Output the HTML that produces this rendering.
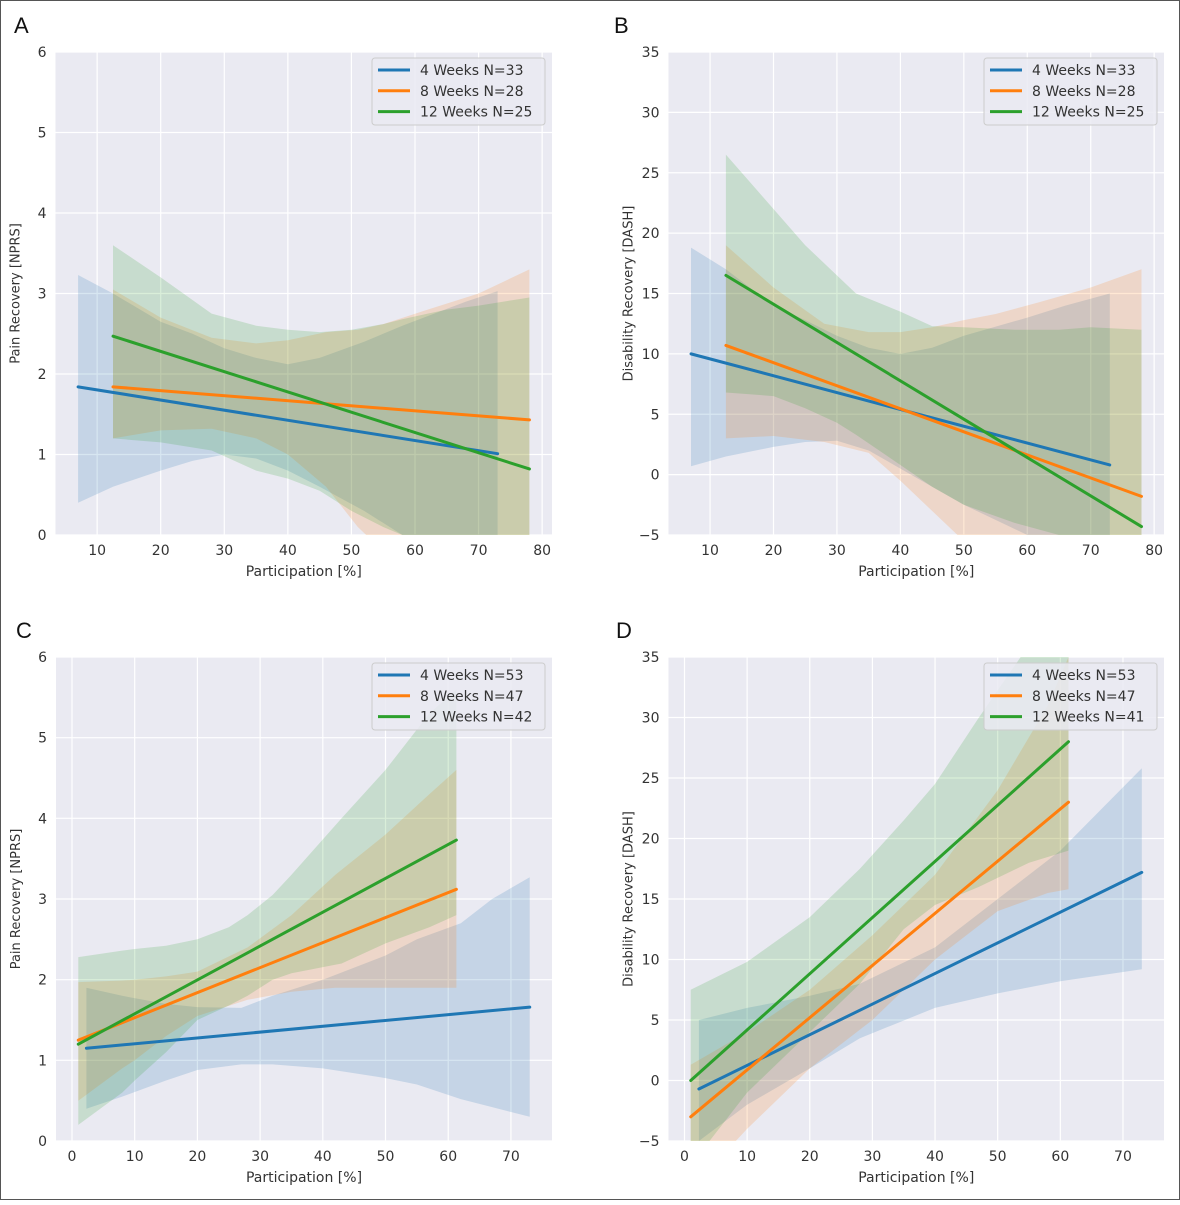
<!DOCTYPE html>
<html><head><meta charset="utf-8">
<style>
html,body{margin:0;padding:0;background:#fff;}
#fig{position:relative;width:1180px;height:1200px;}
svg text{font-family:"DejaVu Sans","Liberation Sans",sans-serif;}
svg text.letter{font-family:"Liberation Sans",sans-serif;}
</style></head>
<body>
<div id="fig">
<svg id="svg" width="1180" height="1200" viewBox="0 0 1180 1200">
<rect x="0.5" y="0.5" width="1179" height="1199" fill="#fff" stroke="#555" stroke-width="1"/>
</svg>
</div>
<script>
// ---- shared legend / series names ----
const seriesNames = ["4 Weeks", "8 Weeks", "12 Weeks"];
const colors = ["#1f77b4", "#ff7f0e", "#2ca02c"];

// ---- Panel A: Pain recovery (NPRS) ----
const aN = [33, 28, 25];
const aLineX = [[7, 73], [12.5, 78], [12.5, 78]];
const aLineY = [[1.84, 1.01], [1.84, 1.43], [2.47, 0.82]];
const aBandX = [
  [7, 12.5, 20, 25, 30, 35, 40, 45, 52, 58, 63, 68, 73],
  [12.5, 20, 28, 35, 40, 46, 51, 55, 62, 70, 78],
  [12.5, 20, 28, 35, 40, 45, 50, 55, 58, 62, 65, 70, 78]];
const aBandHi = [
  [3.23, 3.0, 2.65, 2.5, 2.32, 2.2, 2.12, 2.2, 2.4, 2.6, 2.75, 2.9, 3.03],
  [3.05, 2.7, 2.45, 2.38, 2.42, 2.52, 2.55, 2.62, 2.8, 3.0, 3.3],
  [3.6, 3.2, 2.75, 2.6, 2.55, 2.52, 2.55, 2.62, 2.68, 2.75, 2.8, 2.85, 2.95]];
const aBandLo = [
  [0.4, 0.6, 0.8, 0.92, 1.0, 0.95, 0.8, 0.6, 0.3, 0.0, -0.2, -0.4, -0.6],
  [1.2, 1.3, 1.32, 1.2, 1.0, 0.6, 0.1, -0.2, -0.5, -0.8, -1.2],
  [1.2, 1.15, 1.05, 0.8, 0.7, 0.55, 0.3, 0.1, 0.0, -0.2, -0.3, -0.5, -0.7]];
const aYTicks = [0, 1, 2, 3, 4, 5, 6];
const abXTicks = [10, 20, 30, 40, 50, 60, 70, 80];

// ---- Panel B: Disability recovery (DASH) ----
const bN = [33, 28, 25];
const bLineX = [[7, 73], [12.5, 78], [12.5, 78]];
const bLineY = [[10, 0.8], [10.7, -1.8], [16.5, -4.3]];
const bBandX = [
  [7, 12.5, 20, 25, 30, 35, 40, 45, 50, 60, 66, 73],
  [12.5, 20, 28, 35, 40, 45, 50, 55, 62, 70, 78],
  [12.5, 20, 25, 30, 33, 40, 45, 50, 58, 65, 70, 78]];
const bBandHi = [
  [18.8, 17, 14, 12.8, 11.5, 10.5, 10, 10.5, 11.5, 13, 14, 15],
  [19, 15.5, 12.5, 11.8, 11.8, 12.2, 12.8, 13.3, 14.3, 15.5, 17],
  [26.5, 22, 19, 16.5, 15, 13.5, 12.3, 12.2, 12, 12, 12.2, 12]];
const bBandLo = [
  [0.7, 1.5, 2.3, 2.7, 2.8, 2, 0.5, -1, -2.5, -5, -6, -7],
  [3, 3.2, 2.7, 1.8, -0.5, -3, -5.5, -7, -8.5, -9.5, -10],
  [6.8, 6.5, 5.5, 4.3, 3.3, 0.8, -1, -2.5, -4, -5, -6, -8]];
const bdYTicks = [-5, 0, 5, 10, 15, 20, 25, 30, 35];

// ---- Panel C: Pain recovery (NPRS) ----
const cN = [53, 47, 42];
const cLineX = [[2.3, 73], [1, 61.3], [1, 61.3]];
const cLineY = [[1.15, 1.66], [1.25, 3.12], [1.2, 3.73]];
const cBandX = [
  [2.3, 8, 15, 20, 27, 32, 40, 50, 55, 62, 67, 73],
  [1, 8, 10, 15, 20, 28, 35, 42, 50, 57, 61.3],
  [1, 8, 10, 15, 20, 25, 28, 32, 35, 43, 50, 57, 61.3]];
const cBandHi = [
  [1.9, 1.8, 1.7, 1.66, 1.65, 1.8, 2.0, 2.3, 2.5, 2.7, 3.0, 3.27],
  [1.97, 1.99, 2.0, 2.04, 2.1, 2.4, 2.8, 3.3, 3.8, 4.3, 4.6],
  [2.28, 2.36, 2.38, 2.42, 2.5, 2.65, 2.8, 3.05, 3.3, 4.0, 4.6, 5.3, 5.6]];
const cBandLo = [
  [0.4, 0.55, 0.75, 0.88, 0.95, 0.95, 0.9, 0.78, 0.7, 0.52, 0.42, 0.3],
  [0.5, 0.9, 1.0, 1.3, 1.55, 1.75, 1.85, 1.9, 1.9, 1.9, 1.9],
  [0.2, 0.6, 0.75, 1.1, 1.5, 1.68, 1.8, 2.0, 2.08, 2.2, 2.45, 2.65, 2.8]];
const cdXTicks = [0, 10, 20, 30, 40, 50, 60, 70];

// ---- Panel D: Disability recovery (DASH) ----
const dN = [53, 47, 41];
const dLineX = [[2.3, 73], [1, 61.3], [1, 61.3]];
const dLineY = [[-0.7, 17.2], [-3, 23], [0, 28]];
const dBandX = [
  [2.3, 10, 20, 28, 40, 50, 60, 73],
  [1, 10, 20, 30, 40, 50, 58, 61.3],
  [1, 10, 20, 28, 35, 40, 47, 55, 61.3]];
const dBandHi = [
  [5, 6, 7, 8, 11, 15, 19, 25.8],
  [1.3, 4, 7.5, 12, 17, 24, 31, 35],
  [7.5, 9.8, 13.5, 17.5, 21.5, 24.5, 30, 36, 37]];
const dBandLo = [
  [-5, -2, 1, 3.5, 6, 7.2, 8.2, 9.2],
  [-9, -4, 1, 5, 10, 14, 15.5, 15.8],
  [-7, -1, 4, 8, 12.5, 14.5, 16, 18, 19]];

const NS = "http://www.w3.org/2000/svg";
const svg = document.getElementById("svg");
function mk(tag, attrs, parent) {
  const e = document.createElementNS(NS, tag);
  for (const k in attrs) e.setAttribute(k, attrs[k]);
  (parent || svg).appendChild(e);
  return e;
}

const panels = [
  {id:"a", letter:"A", lx:14, ly:33, left:55.5, top:52, w:496.5, h:483, xmin:3.45, xmax:81.55, ymin:0, ymax:6,
   xt:abXTicks, yt:aYTicks, ylab:"Pain Recovery [NPRS]", n:aN, lX:aLineX, lY:aLineY, bX:aBandX, bH:aBandHi, bL:aBandLo},
  {id:"b", letter:"B", lx:614, ly:33, left:668.5, top:52, w:495.5, h:483, xmin:3.45, xmax:81.55, ymin:-5, ymax:35,
   xt:abXTicks, yt:bdYTicks, ylab:"Disability Recovery [DASH]", n:bN, lX:bLineX, lY:bLineY, bX:bBandX, bH:bBandHi, bL:bBandLo},
  {id:"c", letter:"C", lx:16, ly:638, left:56, top:657, w:496, h:484, xmin:-2.55, xmax:76.55, ymin:0, ymax:6,
   xt:cdXTicks, yt:aYTicks, ylab:"Pain Recovery [NPRS]", n:cN, lX:cLineX, lY:cLineY, bX:cBandX, bH:cBandHi, bL:cBandLo},
  {id:"d", letter:"D", lx:616, ly:638, left:668.5, top:657, w:495.5, h:484, xmin:-2.55, xmax:76.55, ymin:-5, ymax:35,
   xt:cdXTicks, yt:bdYTicks, ylab:"Disability Recovery [DASH]", n:dN, lX:dLineX, lY:dLineY, bX:dBandX, bH:dBandHi, bL:dBandLo}
];

panels.forEach(p => {
  const g = mk("g", {});
  
  
  const sx = v => p.left + (v - p.xmin) / (p.xmax - p.xmin) * p.w;
  const sy = v => p.top + p.h - (v - p.ymin) / (p.ymax - p.ymin) * p.h;

  const letter = mk("text", {x:p.lx, y:p.ly, "font-size":22, fill:"#111", "class":"letter"}, g);
  letter.textContent = p.letter;
  
  

  const bg = mk("rect", {x:p.left, y:p.top, width:p.w, height:p.h, fill:"#eaeaf2"}, g);
  
  

  const clipId = "clip-" + p.id;
  const cp = mk("clipPath", {id:clipId}, g);
  mk("rect", {x:p.left, y:p.top, width:p.w, height:p.h}, cp);

  p.xt.forEach(t => {
    const gl = mk("line", {x1:sx(t), x2:sx(t), y1:p.top, y2:p.top + p.h, stroke:"#fff", "stroke-width":1.2}, g);
    
    
    const tl = mk("text", {x:sx(t), y:p.top + p.h + 20, "font-size":14, fill:"#333", "text-anchor":"middle"}, g);
    tl.textContent = t;
    
    
  });
  p.yt.forEach(t => {
    const gl = mk("line", {x1:p.left, x2:p.left + p.w, y1:sy(t), y2:sy(t), stroke:"#fff", "stroke-width":1.2}, g);
    
    
    const tl = mk("text", {x:p.left - 9, y:sy(t) + 5, "font-size":14, fill:"#333", "text-anchor":"end"}, g);
    tl.textContent = t < 0 ? "\u2212" + Math.abs(t) : t;
    
    
  });

  const xl = mk("text", {x:p.left + p.w / 2, y:p.top + p.h + 41, "font-size":14, fill:"#333", "text-anchor":"middle"}, g);
  xl.textContent = "Participation [%]";
  
  
  const ylx = p.left - 36, yly = p.top + p.h / 2;
  const yl = mk("text", {x:ylx, y:yly, "font-size":13, fill:"#333", "text-anchor":"middle", transform:"rotate(-90 " + ylx + " " + yly + ")"}, g);
  yl.textContent = p.ylab;
  
  

  const data = mk("g", {"clip-path":"url(#" + clipId + ")"}, g);
  for (let s = 0; s < 3; s++) {
    const xs = p.bX[s], hi = p.bH[s], lo = p.bL[s];
    let d = "";
    for (let i = 0; i < xs.length; i++) d += (i ? "L" : "M") + sx(xs[i]).toFixed(1) + "," + sy(hi[i]).toFixed(1);
    for (let i = xs.length - 1; i >= 0; i--) d += "L" + sx(xs[i]).toFixed(1) + "," + sy(lo[i]).toFixed(1);
    const band = mk("path", {d:d + "Z", fill:colors[s], "fill-opacity":0.18}, data);
    
    
  }
  for (let s = 0; s < 3; s++) {
    const ln = mk("line", {x1:sx(p.lX[s][0]), y1:sy(p.lY[s][0]), x2:sx(p.lX[s][1]), y2:sy(p.lY[s][1]), stroke:colors[s], "stroke-width":3, "stroke-linecap":"round"}, data);
    
    
  }

  // legend
  const lgX = p.left + p.w - 180, lgY = p.top + 6;
  const lg = mk("g", {}, g);
  
  
  mk("rect", {x:lgX, y:lgY, width:173, height:67, rx:3, fill:"#eaeaf2", "fill-opacity":0.85, stroke:"#ccc", "stroke-width":1}, lg);
  for (let s = 0; s < 3; s++) {
    const yy = lgY + 12 + s * 20.8;
    const ent = mk("g", {}, lg);
    
    
    mk("line", {x1:lgX + 6, x2:lgX + 38, y1:yy, y2:yy, stroke:colors[s], "stroke-width":3}, ent);
    const t = mk("text", {x:lgX + 48, y:yy + 5, "font-size":14, fill:"#333"}, ent);
    t.textContent = seriesNames[s] + " N=" + p.n[s];
  }
});
</script>
</body></html>
